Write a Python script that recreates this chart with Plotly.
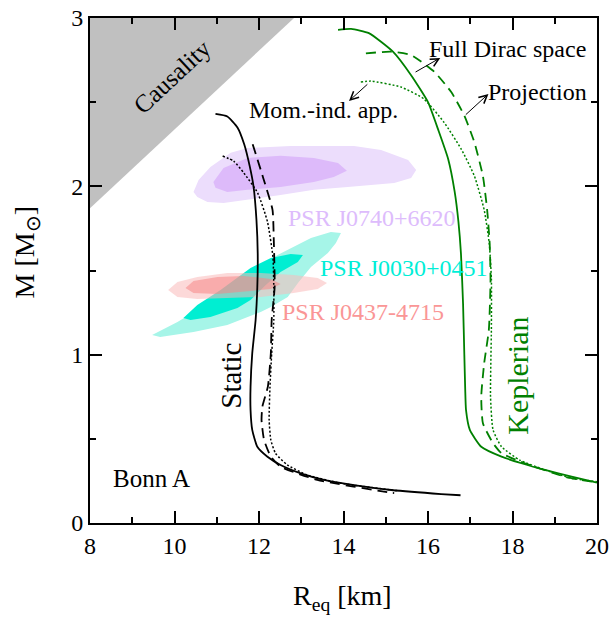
import plotly.graph_objects as go

# ---------------- data ----------------
# Causality excluded region (polygon vertices)
causality_R = [8.0, 12.83, 8.0]
causality_M = [1.87, 3.0, 3.0]

# Static sequences (black)
static_full_R = [10.97, 11.25, 11.49, 11.65, 11.78, 11.87, 11.94, 11.97, 11.96, 11.92, 11.84, 11.80, 11.80, 11.84, 11.96, 12.20, 12.51, 12.99, 13.54, 14.33, 15.13, 16.31, 16.77]
static_full_M = [2.43, 2.415, 2.35, 2.25, 2.12, 2.00, 1.80, 1.60, 1.40, 1.206, 1.008, 0.810, 0.671, 0.553, 0.453, 0.394, 0.345, 0.295, 0.256, 0.222, 0.196, 0.172, 0.165]

static_proj_R = [11.85, 12.10, 12.32, 12.35, 12.37, 12.30, 12.28, 12.21, 12.08, 12.06, 12.12, 12.28, 12.51, 13.38, 15.13, 15.20]
static_proj_M = [2.25, 2.05, 1.86, 1.68, 1.40, 1.206, 1.008, 0.810, 0.691, 0.612, 0.493, 0.394, 0.335, 0.256, 0.180, 0.178]

static_mom_R = [11.14, 11.40, 11.64, 11.97, 12.20, 12.33, 12.35, 12.35, 12.30, 12.26, 12.24, 12.28, 12.39, 12.67, 13.15, 13.94, 15.13, 15.30]
static_mom_M = [2.18, 2.15, 2.08, 1.96, 1.79, 1.58, 1.40, 1.206, 1.008, 0.810, 0.612, 0.493, 0.414, 0.345, 0.285, 0.236, 0.196, 0.192]

# Keplerian sequences (green)
kep_full_R = [13.87, 14.18, 14.60, 15.17, 15.60, 16.00, 16.25, 16.48, 16.63, 16.72, 16.78, 16.83, 16.86, 16.88, 16.90, 16.99, 17.26, 17.74, 18.21, 18.77, 19.40, 20.0]
kep_full_M = [2.93, 2.935, 2.91, 2.80, 2.66, 2.50, 2.33, 2.16, 1.97, 1.79, 1.60, 1.30, 1.00, 0.80, 0.67, 0.553, 0.453, 0.394, 0.355, 0.315, 0.275, 0.24]

kep_proj_R = [14.53, 15.12, 15.60, 16.15, 16.55, 16.86, 17.10, 17.30, 17.40, 17.46, 17.48, 17.44, 17.33, 17.26, 17.30, 17.54, 17.74, 18.29, 19.24, 20.0]
kep_proj_M = [2.79, 2.80, 2.78, 2.68, 2.56, 2.42, 2.26, 2.06, 1.86, 1.66, 1.444, 1.147, 0.949, 0.750, 0.592, 0.474, 0.414, 0.355, 0.275, 0.24]

kep_mom_R = [14.41, 14.65, 15.36, 15.90, 16.38, 16.79, 17.10, 17.33, 17.45, 17.50, 17.50, 17.48, 17.54, 17.74, 18.17, 18.77, 19.40, 20.0]
kep_mom_M = [2.62, 2.625, 2.59, 2.52, 2.38, 2.22, 2.06, 1.86, 1.66, 1.45, 1.15, 0.75, 0.553, 0.453, 0.374, 0.315, 0.266, 0.245]

# Pulsar credible regions (outer / inner contours)
j0740_outer_R = [10.45, 10.57, 10.85, 11.33, 11.73, 12.75, 14.25, 14.89, 15.53, 15.72, 15.60, 15.20, 14.10, 13.30, 12.51, 11.73, 11.16, 10.78, 10.54]
j0740_outer_M = [1.967, 2.038, 2.115, 2.199, 2.228, 2.240, 2.240, 2.216, 2.157, 2.097, 2.050, 2.020, 1.996, 1.979, 1.949, 1.919, 1.901, 1.907, 1.937]
j0740_inner_R = [10.92, 11.16, 11.73, 12.51, 13.30, 13.87, 14.08, 13.77, 13.30, 12.51, 11.73, 11.25, 10.97]
j0740_inner_M = [2.026, 2.109, 2.169, 2.181, 2.169, 2.139, 2.092, 2.056, 2.026, 1.996, 1.979, 1.967, 1.991]

j0030_outer_R = [9.47, 10.07, 10.85, 11.63, 12.44, 13.23, 13.70, 13.94, 13.82, 13.63, 13.23, 12.94, 12.68, 12.28, 12.04, 11.25, 10.45, 9.66]
j0030_outer_M = [1.117, 1.194, 1.313, 1.456, 1.592, 1.693, 1.729, 1.723, 1.664, 1.604, 1.521, 1.432, 1.343, 1.283, 1.254, 1.176, 1.135, 1.105]
j0030_inner_R = [10.21, 10.54, 11.09, 11.80, 12.28, 12.75, 13.04, 12.92, 12.51, 12.16, 11.80, 11.49, 10.85, 10.38]
j0030_inner_M = [1.218, 1.295, 1.384, 1.515, 1.575, 1.598, 1.592, 1.551, 1.491, 1.414, 1.325, 1.277, 1.224, 1.206]

j0437_outer_R = [9.85, 10.07, 10.54, 11.25, 12.04, 12.82, 13.39, 13.61, 13.39, 12.82, 12.04, 11.25, 10.54, 10.07]
j0437_outer_M = [1.384, 1.432, 1.462, 1.485, 1.485, 1.474, 1.456, 1.426, 1.390, 1.367, 1.343, 1.337, 1.331, 1.343]
j0437_inner_R = [10.26, 10.45, 11.02, 11.63, 12.28, 12.51, 12.28, 11.63, 11.02, 10.45]
j0437_inner_M = [1.396, 1.438, 1.462, 1.468, 1.450, 1.420, 1.390, 1.373, 1.361, 1.367]

x_ticks = [8, 10, 12, 14, 16, 18, 20]
y_ticks = [0, 1, 2, 3]

FONT = "Liberation Serif, Times New Roman, serif"
GREEN = "rgb(0,128,0)"

fig = go.Figure()

def poly(R, M, color):
    fig.add_trace(go.Scatter(x=R + [R[0]], y=M + [M[0]], mode="lines", fill="toself",
                             fillcolor=color, line=dict(width=0, color=color),
                             hoverinfo="skip", showlegend=False))

poly(causality_R, causality_M, "rgb(192,192,192)")
poly(j0740_outer_R, j0740_outer_M, "rgb(236,221,252)")
poly(j0740_inner_R, j0740_inner_M, "rgb(221,186,250)")
poly(j0030_outer_R, j0030_outer_M, "rgb(166,245,232)")
poly(j0030_inner_R, j0030_inner_M, "rgb(0,238,210)")
poly(j0437_outer_R, j0437_outer_M, "rgba(250,185,185,0.55)")
poly(j0437_inner_R, j0437_inner_M, "rgba(245,135,135,0.55)")

def curve(R, M, color, dash, width):
    fig.add_trace(go.Scatter(x=R, y=M, mode="lines",
                             line=dict(color=color, dash=dash, width=width, shape="spline", smoothing=0.5),
                             hoverinfo="skip", showlegend=False))

curve(static_full_R, static_full_M, "black", "solid", 1.8)
curve(static_proj_R, static_proj_M, "black", "10px,6px", 1.8)
curve(static_mom_R, static_mom_M, "black", "2px,2px", 1.5)
curve(kep_full_R, kep_full_M, GREEN, "solid", 1.8)
curve(kep_proj_R, kep_proj_M, GREEN, "10px,6px", 1.8)
curve(kep_mom_R, kep_mom_M, GREEN, "2px,2px", 1.5)

def txt(x, y, s, color="black", size=22, angle=0):
    fig.add_annotation(x=x, y=y, text=s, showarrow=False, textangle=angle,
                       font=dict(family=FONT, size=size, color=color),
                       xanchor="center", yanchor="middle")

txt(9.95, 2.65, "Causality", size=25, angle=-43)
txt(13.53, 2.454, "Mom.-ind. app.", size=24)
txt(17.87, 2.816, "Full Dirac space", size=24)
txt(18.58, 2.561, "Projection", size=24)
txt(14.67, 1.812, "PSR J0740+6620", color="rgb(221,188,252)", size=24)
txt(15.43, 1.515, "PSR J0030+0451", color="rgb(0,238,215)", size=24)
txt(14.46, 1.254, "PSR J0437-4715", color="rgb(250,150,150)", size=24)
txt(9.45, 0.267, "Bonn A", size=25)
txt(11.33, 0.873, "Static", size=29, angle=-90)
txt(18.10, 0.873, "Keplerian", size=30, color=GREEN, angle=-90)

def arrow(hx, hy, tx, ty):
    fig.add_annotation(x=hx, y=hy, ax=tx, ay=ty, xref="x", yref="y", axref="x", ayref="y",
                       text="", showarrow=True, arrowhead=5, arrowsize=1.6, arrowwidth=1,
                       arrowcolor="black")

arrow(16.29, 2.763, 15.67, 2.674)
arrow(17.43, 2.549, 16.86, 2.418)
arrow(14.13, 2.507, 14.60, 2.614)

# axis titles
fig.add_annotation(xref="paper", yref="paper", x=0.498, y=-0.148, text="R<sub>eq</sub> [km]",
                   showarrow=False, font=dict(family=FONT, size=28, color="black"),
                   xanchor="center", yanchor="middle")
fig.add_annotation(xref="paper", yref="paper", x=-0.125, y=0.535, text="M [M<sub>⊙</sub>]",
                   showarrow=False, textangle=-90, font=dict(family=FONT, size=28, color="black"),
                   xanchor="center", yanchor="middle")

axis_common = dict(showgrid=False, zeroline=False, showline=True, linecolor="black", linewidth=2,
                   mirror="ticks", ticks="inside", ticklen=12, tickwidth=2, tickcolor="black",
                   automargin=False,
                   tickfont=dict(family=FONT, size=24, color="black"),
                   minor=dict(ticks="inside", ticklen=6, tickwidth=2, tickcolor="black", showgrid=False))

fig.update_xaxes(range=[8, 20], tickvals=x_ticks, ticktext=[str(v) for v in x_ticks],
                 minor_dtick=1, **axis_common)
fig.update_yaxes(range=[0, 3], tickvals=y_ticks, ticktext=[str(v) for v in y_ticks],
                 minor_dtick=0.5, **axis_common)

fig.update_layout(width=613, height=618, autosize=False,
                  margin=dict(l=90, r=16, t=18, b=95),
                  plot_bgcolor="white", paper_bgcolor="white",
                  showlegend=False, hovermode=False)

fig.write_html("out.html")
